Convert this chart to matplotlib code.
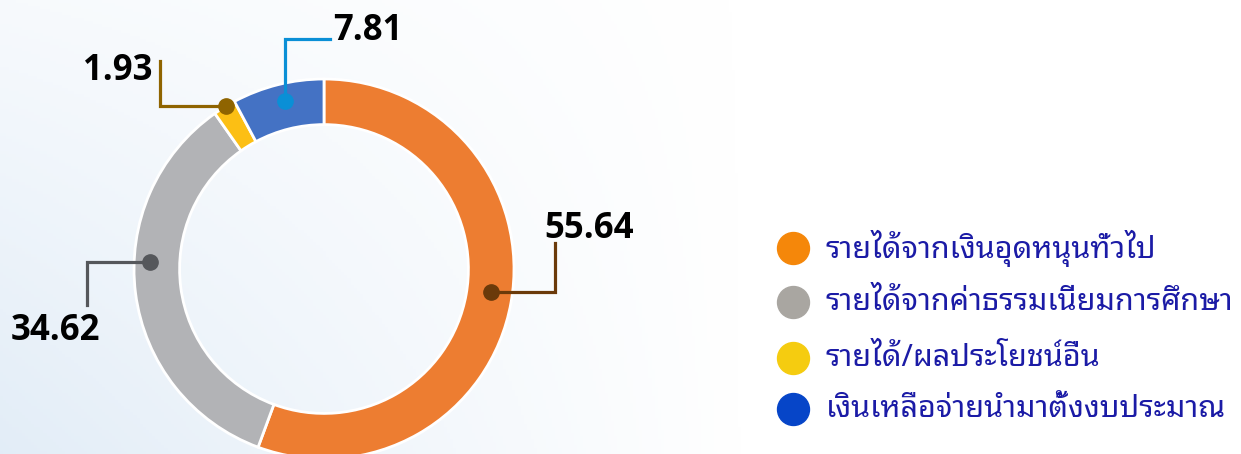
import numpy as np
import matplotlib
matplotlib.use("Agg")
import matplotlib.pyplot as plt

plt.rcParams['font.family'] = ['Noto Sans Thai Looped', 'DejaVu Sans']

# ข้อมูล
categories = ["รายได้จากเงินอุดหนุนทั่วไป",
              "รายได้จากค่าธรรมเนียมการศึกษา",
              "รายได้/ผลประโยชน์อื่น",
              "เงินเหลือจ่ายนำมาตั้งงบประมาณ"]
values = [55.64, 34.62, 1.93, 7.81]
value_labels = ["55.64", "34.62", "1.93", "7.81"]

colors = ["#ED7D31", "#B2B3B6", "#FCBF14", "#4472C4"]
legend_colors = ["#F5870A", "#A9A6A1", "#F5CC10", "#0645C8"]
leader_colors = ["#6B3A0A", "#55575B", "#8F6400", "#0A8FD6"]

# ตำแหน่งเส้นชี้ (หน่วยรัศมี)
dot_shift = [2.3, -9.8, -0.5, -1.0]
dot_r = [0.887, 0.916, 1.0, 0.905]
legs = [("h", 1.216, 0.137), ("h", -1.247, -0.189), ("h", -0.863, 1.095), ("v", 1.21, 0.032)]
text_pos = [(1.395, 0.21, "center"), (-1.416, -0.326, "center"),
            (-0.905, 1.042, "right"), (0.047, 1.25, "left")]

W, H = 1241, 454
fig = plt.figure(figsize=(W / 100, H / 100), dpi=100)

# พื้นหลังจาง ๆ ด้านซ้าย
bg = fig.add_axes([0, 0, 1, 1], zorder=0)
xx, yy = np.meshgrid(np.linspace(0, 1, 400), np.linspace(0, 1, 150))
alpha = np.clip(1 - xx / 0.6, 0, 1) * (0.2 + 0.5 * yy)
img = np.zeros(xx.shape + (4,))
img[..., 0], img[..., 1], img[..., 2] = 0.84, 0.90, 0.96
img[..., 3] = alpha
bg.imshow(img, extent=[0, 1, 0, 1], aspect="auto", origin="upper")
bg.axis("off")

ax = fig.add_axes([134 / W, -5 / H, 380 / W, 380 / H], zorder=1)
wedges, _ = ax.pie(values, colors=colors, startangle=90, counterclock=False,
                   radius=1, wedgeprops=dict(width=0.24, edgecolor="white", linewidth=2))
ax.set_xlim(-1, 1)
ax.set_ylim(-1, 1)
ax.set_aspect("equal")
ax.axis("off")

for i, w in enumerate(wedges):
    ang = np.deg2rad((w.theta1 + w.theta2) / 2 + dot_shift[i])
    x0, y0 = dot_r[i] * np.cos(ang), dot_r[i] * np.sin(ang)
    kind, a, b = legs[i]
    if kind == "h":
        xs, ys = [x0, a, a], [y0, y0, b]
    else:
        xs, ys = [x0, x0, b], [y0, a, a]
    ax.plot(xs, ys, color=leader_colors[i], lw=2.3, clip_on=False, solid_joinstyle="miter")
    ax.plot(x0, y0, "o", color=leader_colors[i], ms=11, clip_on=False)
    tx, ty, ha = text_pos[i]
    ax.text(tx, ty, value_labels[i], ha=ha, va="center", fontsize=25,
            fontweight="bold", family=["Open Sans", "DejaVu Sans"], color="black")

# คำอธิบายสัญลักษณ์
lg = fig.add_axes([0, 0, 1, 1], zorder=2)
lg.set_xlim(0, W)
lg.set_ylim(H, 0)
lg.axis("off")
rows = [248, 302, 358, 409]
for i, lab in enumerate(categories):
    lg.plot(793, rows[i], "o", color=legend_colors[i], ms=23)
    lg.text(826, rows[i], lab, va="center", ha="left", fontsize=22,
            fontweight="medium", color="#1B1BA6")

fig.savefig("out.png", dpi=100)
